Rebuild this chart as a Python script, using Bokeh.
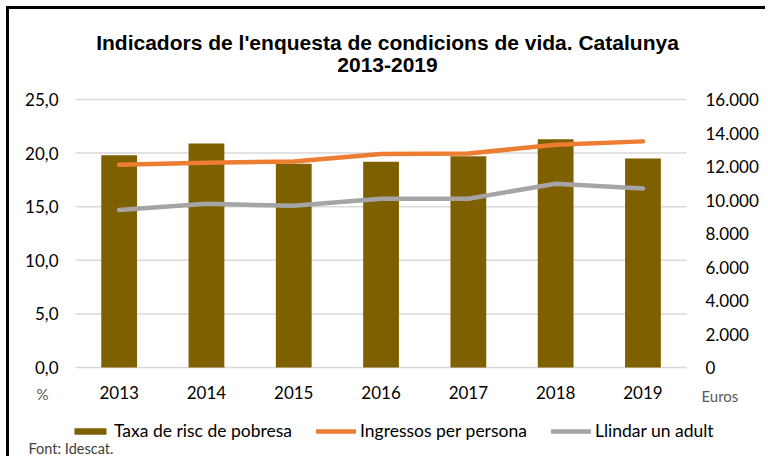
from bokeh.plotting import figure
from bokeh.models import Range1d, Legend, LegendItem
from bokeh.core.properties import value
from bokeh.embed import file_html
from bokeh.resources import INLINE

years = ["2013", "2014", "2015", "2016", "2017", "2018", "2019"]
taxa_risc = [19.8, 20.9, 19.0, 19.2, 19.7, 21.3, 19.5]
ingressos = [12100, 12230, 12300, 12740, 12770, 13300, 13500]
llindar = [9400, 9770, 9650, 10080, 10080, 10970, 10680]

left_ticks = [0, 5, 10, 15, 20, 25]
left_labels = ["0,0", "5,0", "10,0", "15,0", "20,0", "25,0"]
right_ticks = [0, 2000, 4000, 6000, 8000, 10000, 12000, 14000, 16000]
right_labels = ["0", "2.000", "4.000", "6.000", "8.000", "10.000", "12.000", "14.000", "16.000"]

title1 = "Indicadors de l'enquesta de condicions de vida. Catalunya"
title2 = "2013-2019"
unit_left = "%"
unit_right = "Euros"
source = "Font: Idescat."
series_names = ["Taxa de risc de pobresa", "Ingressos per persona", "Llindar un adult"]

LBL_FONT = "Lato"
TITLE_FONT = "Liberation Sans"

# ---- layout (window pixels) ----
OX, OY = 9, 9                 # canvas origin in window (margin + border)
W, H = 759, 450
CAT_W = 87.3                  # pixels per category
X0_PX = 118.65                # centre of first category
Y0_PX, Y25_PX = 367, 99       # pixel rows of 0 and 25 on the left scale
PX_PER_UNIT = (Y0_PX - Y25_PX) / 25.0
PX_PER_EURO = (Y0_PX - Y25_PX) / 16000.0

xs = [int(y) for y in years]
x_start = xs[0] - (X0_PX - OX) / CAT_W
x_end = x_start + W / CAT_W
y_start = -(OY + H - Y0_PX) / PX_PER_UNIT
y_end = (Y0_PX - OY) / PX_PER_UNIT
e_start = -(OY + H - Y0_PX) / PX_PER_EURO
e_end = (Y0_PX - OY) / PX_PER_EURO

def dx(px):
    return x_start + (px - OX) / CAT_W

def dy(py):
    return (Y0_PX - py) / PX_PER_UNIT

p = figure(x_range=Range1d(x_start, x_end), y_range=Range1d(y_start, y_end),
           width=W, height=H, output_backend="svg", toolbar_location=None,
           x_axis_type=None, y_axis_type=None,
           min_border_left=0, min_border_right=0, min_border_top=0, min_border_bottom=0)
p.margin = (6, 0, 0, 6)
p.styles = {"border-top": "3px solid black", "border-left": "3px solid black"}
p.outline_line_color = None
p.extra_y_ranges = {"euros": Range1d(e_start, e_end)}

# grid lines at the left-axis ticks, spanning the categories
p.segment(x0=[xs[0] - 0.5] * len(left_ticks), x1=[xs[-1] + 0.5] * len(left_ticks),
          y0=left_ticks, y1=left_ticks, line_color="#d9d9d9", line_width=1.5)

bars = p.vbar(x=xs, top=taxa_risc, width=0.41, fill_color="#7f6000", line_color=None)
l1 = p.line(x=xs, y=ingressos, y_range_name="euros", line_color="#ed7d31", line_width=4.5,
            line_cap="round", line_join="round")
l2 = p.line(x=xs, y=llindar, y_range_name="euros", line_color="#a5a5a5", line_width=4.5,
            line_cap="round", line_join="round")

# axis tick labels
p.text(x=[dx(58)] * len(left_ticks), y=left_ticks, text=left_labels,
       text_font=value(LBL_FONT), text_font_size=value("17px"), text_color="#000000",
       text_align="right", text_baseline="middle")
p.text(x=[dx(705)] * len(right_ticks), y=right_ticks, text=right_labels, y_range_name="euros",
       text_font=value(LBL_FONT), text_font_size=value("17px"), text_color="#000000",
       text_align="left", text_baseline="middle")
p.text(x=xs, y=[dy(392)] * len(xs), text=years,
       text_font=value(LBL_FONT), text_font_size=value("17px"), text_color="#000000",
       text_align="center", text_baseline="middle")

# unit labels and source
p.text(x=[dx(42)], y=[dy(393)], text=[unit_left], text_font=value(LBL_FONT),
       text_font_size=value("15px"), text_color="#595959", text_align="center", text_baseline="middle")
p.text(x=[dx(701)], y=[dy(395)], text=[unit_right], text_font=value(LBL_FONT),
       text_font_size=value("15px"), text_color="#595959", text_align="left", text_baseline="middle")
p.text(x=[dx(28)], y=[dy(448)], text=[source], text_font=value(LBL_FONT),
       text_font_size=value("14.5px"), text_color="#404040", text_align="left", text_baseline="middle")

# title
p.text(x=[dx(387), dx(387)], y=[dy(42), dy(64)], text=[title1, title2], text_font=value(TITLE_FONT),
       text_font_style="bold", text_font_size=value("21px"), text_color="#000000",
       text_align="center", text_baseline="middle")

legend = Legend(items=[LegendItem(label=series_names[0], renderers=[bars]),
                       LegendItem(label=series_names[1], renderers=[l1]),
                       LegendItem(label=series_names[2], renderers=[l2])],
                orientation="horizontal", location=(71 - OX - 1, OY + H - 441),
                glyph_width=40, glyph_height=8,
                label_text_font=LBL_FONT, label_text_font_size="17.5px", label_standoff=4,
                label_text_color="#000000",
                spacing=24, padding=1, margin=0, border_line_color=None,
                background_fill_alpha=0)
p.add_layout(legend, "center")

open("out.html", "w").write(file_html(p, INLINE))
